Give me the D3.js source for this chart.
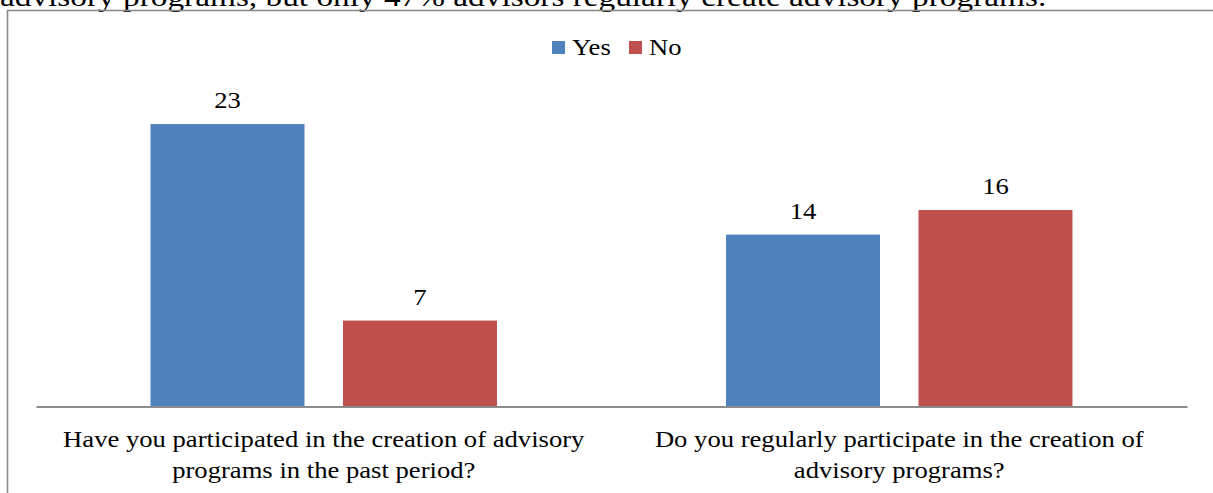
<!DOCTYPE html>
<html>
<head>
<meta charset="utf-8">
<script src="https://cdn.jsdelivr.net/npm/d3@7"></script>
<style>
  html, body { margin: 0; padding: 0; background: #fff; }
  svg { display: block; }
  text { font-family: "Liberation Serif", "Times New Roman", serif; fill: #000; }
</style>
</head>
<body>
<script>
const categories = [
  ["Have you participated in the creation of advisory", "programs in the past period?"],
  ["Do you regularly participate in the creation of", "advisory programs?"]
];
const seriesNames = ["Yes", "No"];
const seriesColors = ["#4F81BD", "#C0504D"];
const yesValues = [23, 14];
const noValues = [7, 16];
const captionText = "advisory programs, but only 47% advisors regularly create advisory programs.";

const W = 1213, H = 493;
const SX = 1.11; // horizontal stretch of the source rendering
const svg = d3.select("body").append("svg").attr("width", W).attr("height", H);

function stretchedText(sel, x, y, str, size, anchor, sx) {
  return sel.append("text")
    .attr("transform", `translate(${x},${y}) scale(${sx || SX},1)`)
    .attr("text-anchor", anchor || "start")
    .attr("font-size", size)
    .text(str);
}

// caption fragment from page above (cut off at the top)
stretchedText(svg, 0, 6, captionText, 28, "start", 1.19);

// chart frame
svg.append("rect").attr("x", 7.5).attr("y", 10.5).attr("width", W + 10).attr("height", H + 10)
  .attr("fill", "none").attr("stroke", "#8a8a8a").attr("stroke-width", 1.6);

const plot = { left: 36, right: 1187, top: 99.5, bottom: 406.5 };

const x0 = d3.scaleBand().domain(d3.range(categories.length)).range([plot.left, plot.right]).paddingInner(0).paddingOuter(0);
const x1 = d3.scaleBand().domain(seriesNames).range([0, x0.bandwidth()]).paddingInner(0.2).paddingOuter(0.595);
const y = d3.scaleLinear().domain([0, 25]).range([plot.bottom, plot.top]);

const data = categories.map((c, i) => ({ i, values: [yesValues[i], noValues[i]] }));

const groups = svg.selectAll("g.cat").data(data).join("g").attr("class", "cat")
  .attr("transform", d => `translate(${x0(d.i)},0)`);

groups.selectAll("rect").data(d => d.values.map((v, k) => ({ v, k }))).join("rect")
  .attr("x", d => x1(seriesNames[d.k]))
  .attr("y", d => y(d.v))
  .attr("width", x1.bandwidth())
  .attr("height", d => y(0) - y(d.v))
  .attr("fill", d => seriesColors[d.k]);

groups.each(function (d) {
  const g = d3.select(this);
  d.values.forEach((v, k) => {
    stretchedText(g, x1(seriesNames[k]) + x1.bandwidth() / 2, y(v) - 16, String(v), 24, "middle");
  });
});

// axis
const axis = d3.axisBottom(x0).tickSize(0).tickFormat("");
const ax = svg.append("g").attr("transform", `translate(0,${plot.bottom})`).call(axis);
ax.select(".domain").attr("stroke", "#8c8c8c").attr("stroke-width", 2);

// category labels
groups.each(function (d) {
  const g = d3.select(this);
  categories[d.i].forEach((line, li) => {
    stretchedText(g, x0.bandwidth() / 2, 447 + li * 31, line, 24, "middle");
  });
});

// legend
const legend = svg.append("g").attr("transform", "translate(552,41)");
const lx = [0, 77];
seriesNames.forEach((s, k) => {
  const g = legend.append("g").attr("transform", `translate(${lx[k]},0)`);
  g.append("rect").attr("x", 0).attr("y", 0).attr("width", 13).attr("height", 13).attr("fill", seriesColors[k]);
  stretchedText(g, 20, 14, s, 24, "start");
});
</script>
</body>
</html>
